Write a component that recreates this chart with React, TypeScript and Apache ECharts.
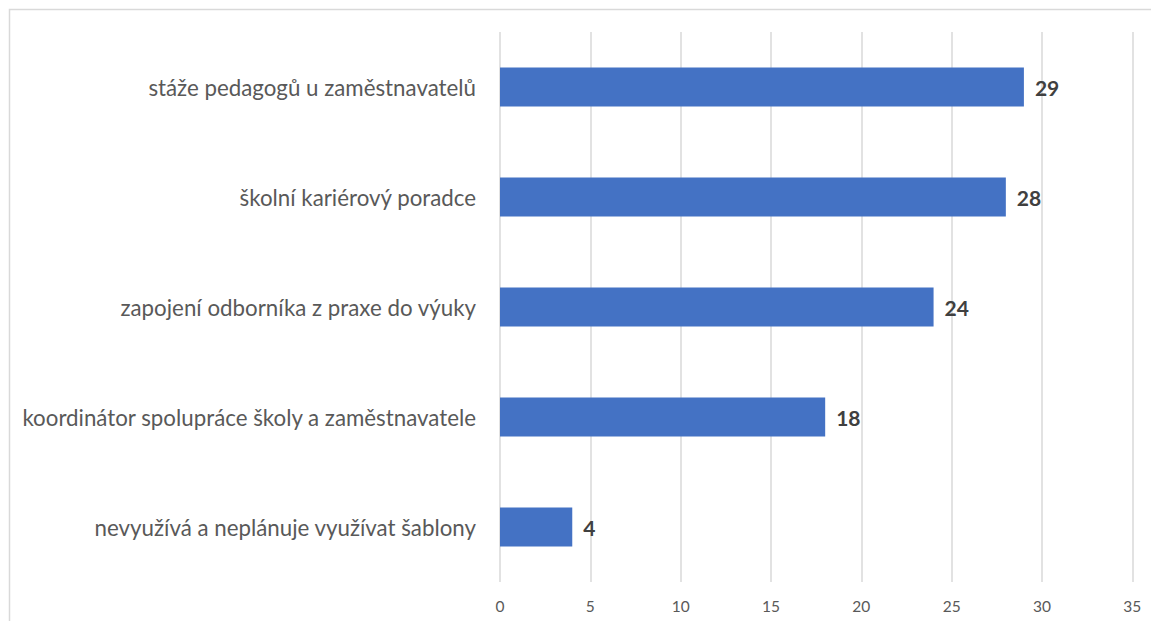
import React, { useEffect, useRef } from "react";
import * as echarts from "echarts";

const categories = [
  "stáže pedagogů u zaměstnavatelů",
  "školní kariérový poradce",
  "zapojení odborníka z praxe do výuky",
  "koordinátor spolupráce školy a zaměstnavatele",
  "nevyužívá a neplánuje využívat šablony",
];
const values = [29, 28, 24, 18, 4];
const xTicks = [0, 5, 10, 15, 20, 25, 30, 35];

export default function App() {
  const ref = useRef<HTMLDivElement>(null);
  useEffect(() => {
    const chart = echarts.init(ref.current!, null, { renderer: "svg" });
    chart.setOption({
      animation: false,
      textStyle: { fontFamily: "Lato" },
      graphic: [
        {
          type: "rect",
          shape: { x: 9.5, y: 9.5, width: 1300, height: 800 },
          style: { fill: "none", stroke: "#d9d9d9", lineWidth: 1.5 },
          silent: true,
        },
      ],
      grid: { left: 500, right: 18.7, top: 32, bottom: 39 },
      xAxis: {
        type: "value",
        min: xTicks[0],
        max: xTicks[xTicks.length - 1],
        interval: 5,
        axisLine: { show: false },
        axisTick: { show: false },
        splitLine: { lineStyle: { color: "#d9d9d9", width: 1.5 } },
        axisLabel: { color: "#595959", fontSize: 15.5, margin: 16 },
      },
      yAxis: {
        type: "category",
        data: categories,
        inverse: true,
        axisLine: { show: false },
        axisTick: { show: false },
        axisLabel: { color: "#595959", fontSize: 22.3, margin: 24 },
      },
      series: [
        {
          type: "bar",
          data: values,
          barWidth: 39,
          itemStyle: { color: "#4472c4" },
          label: {
            show: true,
            position: "right",
            distance: 11,
            color: "#404040",
            fontSize: 21,
            fontWeight: "bold",
          },
        },
      ],
    });
    return () => chart.dispose();
  }, []);
  return (
    <div
      ref={ref}
      style={{ position: "fixed", left: 0, top: 0, width: 1151, height: 621, background: "#fff" }}
    />
  );
}
